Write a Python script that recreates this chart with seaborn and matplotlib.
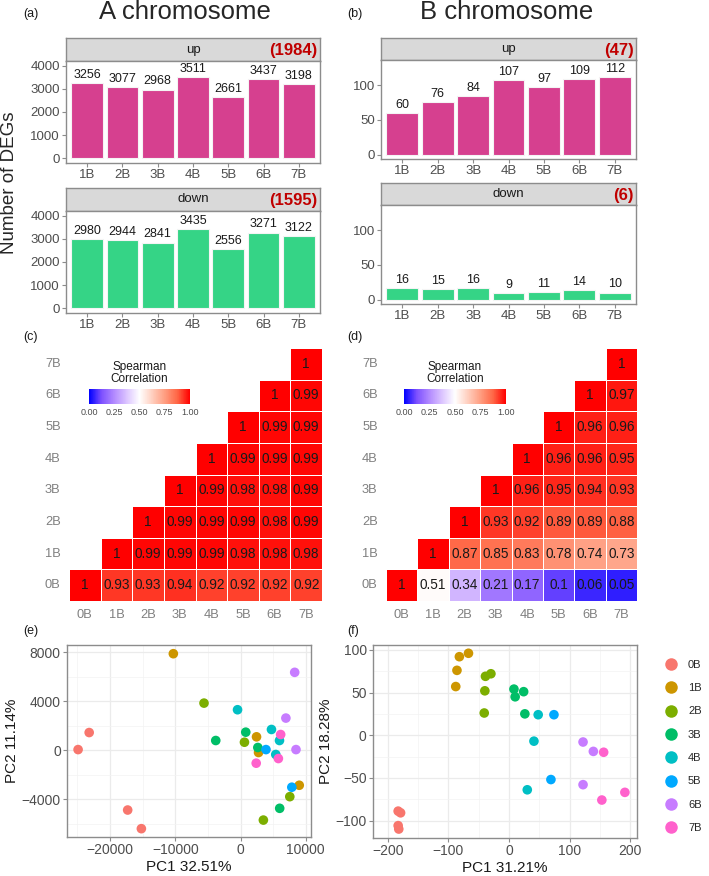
import matplotlib
matplotlib.use("Agg")
import matplotlib.pyplot as plt
from matplotlib.colors import LinearSegmentedColormap
import numpy as np
import pandas as pd
import seaborn as sns

# --- data ---
chroms = ["1B", "2B", "3B", "4B", "5B", "6B", "7B"]
a_up = [3256, 3077, 2968, 3511, 2661, 3437, 3198]
a_down = [2980, 2944, 2841, 3435, 2556, 3271, 3122]
b_up = [60, 76, 84, 107, 97, 109, 112]
b_down = [16, 15, 16, 9, 11, 14, 10]
a_totals = {"up": 1984, "down": 1595}
b_totals = {"up": 47, "down": 6}

samples = ["0B", "1B", "2B", "3B", "4B", "5B", "6B", "7B"]
# upper triangle, row i holds columns i..7
corr_a_rows = [
    [1, 0.93, 0.93, 0.94, 0.92, 0.92, 0.92, 0.92],
    [1, 0.99, 0.99, 0.99, 0.98, 0.98, 0.98],
    [1, 0.99, 0.99, 0.99, 0.98, 0.99],
    [1, 0.99, 0.98, 0.98, 0.99],
    [1, 0.99, 0.99, 0.99],
    [1, 0.99, 0.99],
    [1, 0.99],
    [1],
]
corr_b_rows = [
    [1, 0.51, 0.34, 0.21, 0.17, 0.1, 0.06, 0.05],
    [1, 0.87, 0.85, 0.83, 0.78, 0.74, 0.73],
    [1, 0.93, 0.92, 0.89, 0.89, 0.88],
    [1, 0.96, 0.95, 0.94, 0.93],
    [1, 0.96, 0.96, 0.95],
    [1, 0.96, 0.96],
    [1, 0.97],
    [1],
]

pca_a = {
    "0B": ([-24900, -23200, -17300, -15200], [50, 1440, -4880, -6400]),
    "1B": ([-10300, 2450, 2760, 9000], [7870, 1090, -190, -2860]),
    "2B": ([-5600, 600, 3500, 7550], [3840, 650, -5700, -3790]),
    "3B": ([-3800, 800, 2650, 6000], [790, 1470, 220, -4740]),
    "4B": ([-460, 4740, 5970, 5400], [3300, 1690, 790, -350]),
    "5B": ([3900, 7860], [50, -3020]),
    "6B": ([8300, 6950, 8500], [6350, 2620, 50]),
    "7B": ([6150, 2400, 5800], [1280, -1060, -680]),
}
pca_b = {
    "0B": ([-183, -179, -183, -182], [-89, -91, -106, -110]),
    "1B": ([-82, -67, -86, -88], [92, 96, 76, 57]),
    "2B": ([-39, -30, -40, -41], [69, 72, 52, 26]),
    "3B": ([8, 24, 10, 26], [54, 51, 45, 25]),
    "4B": ([48, 41, 30], [24, -7, -64]),
    "5B": ([74, 69], [24, -52]),
    "6B": ([122, 139, 122], [-8, -19, -58]),
    "7B": ([156, 153, 191], [-20, -76, -67]),
}

# --- style ---
W, H = 709, 876
sns.set_theme(style="white")
plt.rcParams["font.family"] = ["Liberation Sans", "DejaVu Sans"]

UP_COLOR = "#D6408F"
DOWN_COLOR = "#35D486"
BORDER = "#8C8C8C"
TICK_TXT = "#4D4D4D"
hue_colors = ["#F8766D", "#CD9600", "#7CAE00", "#00BE67",
              "#00BFC4", "#00A9FF", "#C77CFF", "#FF61CC"]
corr_cmap = LinearSegmentedColormap.from_list(
    "bwr_lab",
    [(0.0, "#0000FF"), (0.125, "#7E51FF"), (0.25, "#B38BFF"), (0.375, "#DCC5FF"),
     (0.5, "#FFFFFF"), (0.625, "#FFCFBF"), (0.75, "#FF9E81"), (0.875, "#FF6746"),
     (1.0, "#FF0000")])


def rect(x0, y0, x1, y1):
    return [x0 / W, 1 - y1 / H, (x1 - x0) / W, (y1 - y0) / H]


def fig_text(x, y, s, **kw):
    fig.text(x / W, 1 - y / H, s, **kw)


def style_border(ax):
    for sp in ax.spines.values():
        sp.set_visible(True)
        sp.set_color(BORDER)
        sp.set_linewidth(1.0)


def bar_panel(box, strip_top, values, color, label, total, ylim, yticks):
    x0, y0, x1, y1 = box
    sax = fig.add_axes(rect(x0, strip_top, x1, y0))
    sax.set_facecolor("#D9D9D9")
    sax.set_xticks([])
    sax.set_yticks([])
    style_border(sax)
    sax.text(0.5, 0.5, label, ha="center", va="center", fontsize=9.5, color="#1A1A1A",
             transform=sax.transAxes)
    sax.text(0.99, 0.45, f"({total})", ha="right", va="center", fontsize=12,
             fontweight="bold", color="#C00000", transform=sax.transAxes)

    ax = fig.add_axes(rect(x0, y0, x1, y1))
    df = pd.DataFrame({"chrom": chroms, "n": values})
    sns.barplot(data=df, x="chrom", y="n", color=color, saturation=1, width=0.9,
                edgecolor="#F4F4F4", linewidth=0.8, errorbar=None, ax=ax)
    for c in ax.containers:
        ax.bar_label(c, padding=1.5, fontsize=9, color="#1A1A1A")
    ax.set_xlim(-0.6, 6.6)
    ax.set_ylim(*ylim)
    ax.set_yticks(yticks)
    ax.set_xlabel("")
    ax.set_ylabel("")
    style_border(ax)
    ax.tick_params(axis="both", length=3, width=0.8, color=BORDER, labelsize=9.5,
                   labelcolor=TICK_TXT, pad=1.5, bottom=True, left=True)
    return ax


def corr_panel(box, rows, cbar_box):
    n = len(samples)
    mat = np.full((n, n), np.nan)
    for i, r in enumerate(rows):
        mat[i, i:] = r
    df = pd.DataFrame(mat, index=samples, columns=samples).iloc[::-1]
    annot = df.map(lambda v: "" if np.isnan(v) else f"{v:g}")
    ax = fig.add_axes(rect(*box))
    sns.heatmap(df, mask=df.isna(), cmap=corr_cmap, vmin=0, vmax=1, annot=annot.values,
                fmt="", annot_kws={"color": "#1A1A1A", "fontsize": 9.8},
                linewidths=0.4, linecolor="white", cbar=False, ax=ax)
    ax.tick_params(length=0, labelsize=9.3, labelcolor="#808080", pad=6)
    ax.set_yticklabels(ax.get_yticklabels(), rotation=0)
    ax.set_xticklabels(ax.get_xticklabels(), rotation=0)
    ax.set_xlabel("")
    ax.set_ylabel("")

    cx0, cy0, cx1, cy1 = cbar_box
    cax = fig.add_axes(rect(cx0, cy0, cx1, cy1))
    cb = fig.colorbar(ax.collections[0], cax=cax, orientation="horizontal")
    cb.set_ticks([0, 0.25, 0.5, 0.75, 1.0])
    cb.set_ticklabels(["0.00", "0.25", "0.50", "0.75", "1.00"])
    cb.outline.set_visible(False)
    cax.tick_params(length=0, labelsize=6.5, labelcolor=TICK_TXT, pad=3)
    fig_text((cx0 + cx1) / 2, cy0 - 16, "Spearman\nCorrelation", ha="center",
             va="center", fontsize=8.5, color="#1A1A1A", linespacing=1.05)


def pca_panel(box, groups, xlim, ylim, xt, yt, xminor, yminor, xlab, ylab, legend):
    recs = []
    for g, (xs, ys) in groups.items():
        for x, y in zip(xs, ys):
            recs.append({"group": g, "PC1": x, "PC2": y})
    df = pd.DataFrame(recs)
    ax = fig.add_axes(rect(*box))
    sns.scatterplot(data=df, x="PC1", y="PC2", hue="group", hue_order=samples,
                    palette=hue_colors, s=48, edgecolor="none", legend=legend, ax=ax)
    ax.set_xlim(*xlim)
    ax.set_ylim(*ylim)
    ax.set_xticks(xt)
    ax.set_yticks(yt)
    ax.set_xticks(xminor, minor=True)
    ax.set_yticks(yminor, minor=True)
    ax.set_axisbelow(True)
    ax.grid(which="major", color="#EBEBEB", linewidth=0.9)
    ax.grid(which="minor", color="#F3F3F3", linewidth=0.5)
    style_border(ax)
    ax.tick_params(which="major", length=3, width=0.8, color=BORDER, labelsize=10,
                   labelcolor=TICK_TXT, pad=1.5, bottom=True, left=True)
    ax.tick_params(which="minor", length=0)
    ax.set_xlabel(xlab, fontsize=11, color="#1A1A1A", labelpad=2)
    ax.set_ylabel(ylab, fontsize=11, color="#1A1A1A", labelpad=2)
    if legend:
        sns.move_legend(ax, "upper left", bbox_to_anchor=(1.05, 0.975), frameon=False,
                        title=None, fontsize=8, labelspacing=1.2, handletextpad=0.5,
                        markerscale=1.3)
    return ax


fig = plt.figure(figsize=(W / 100, H / 100), dpi=100)

# titles and panel letters
fig_text(185, 19, "A chromosome", ha="center", va="baseline", fontsize=18.5)
fig_text(507, 19, "B chromosome", ha="center", va="baseline", fontsize=18.5)
for lab, x, y in [("(a)", 23, 17), ("(b)", 347, 17), ("(c)", 23, 340),
                  ("(d)", 347, 340), ("(e)", 23, 634), ("(f)", 347, 634)]:
    fig_text(x, y, lab, ha="left", va="baseline", fontsize=9, color="#1A1A1A")

# (a) / (b) DEG bars
a_ticks = [0, 1000, 2000, 3000, 4000]
b_ticks = [0, 50, 100]
bar_panel((66, 61, 320, 163), 38, a_up, UP_COLOR, "up", a_totals["up"], (-200, 4200), a_ticks)
bar_panel((66, 211, 320, 313), 188, a_down, DOWN_COLOR, "down", a_totals["down"], (-200, 4200), a_ticks)
bar_panel((381, 60, 636, 159), 38, b_up, UP_COLOR, "up", b_totals["up"], (-6.5, 136.5), b_ticks)
bar_panel((381, 205, 636, 304), 183, b_down, DOWN_COLOR, "down", b_totals["down"], (-6.5, 136.5), b_ticks)
fig_text(10, 183, "Number of DEGs", rotation=90, ha="center", va="center", fontsize=13.5)

# (c) / (d) correlation heatmaps
corr_panel((69, 348, 322, 601), corr_a_rows, (89, 389, 190, 404))
corr_panel((386, 348, 637, 601), corr_b_rows, (404, 389, 506, 404))

# (e) / (f) PCA
pca_panel((67, 645, 311, 837), pca_a, (-26600, 10800), (-7080, 8580),
          [-20000, -10000, 0, 10000], [-4000, 0, 4000, 8000],
          [-25000, -15000, -5000, 5000], [-6000, -2000, 2000, 6000],
          "PC1 32.51%", "PC2 11.14%", False)
pca_panel((373, 645, 637, 838), pca_b, (-224.5, 211), (-120.5, 105.7),
          [-200, -100, 0, 100, 200], [-100, -50, 0, 50, 100],
          [-150, -50, 50, 150], [-75, -25, 25, 75],
          "PC1 31.21%", "PC2 18.28%", True)

fig.savefig("out.png", dpi=100)
